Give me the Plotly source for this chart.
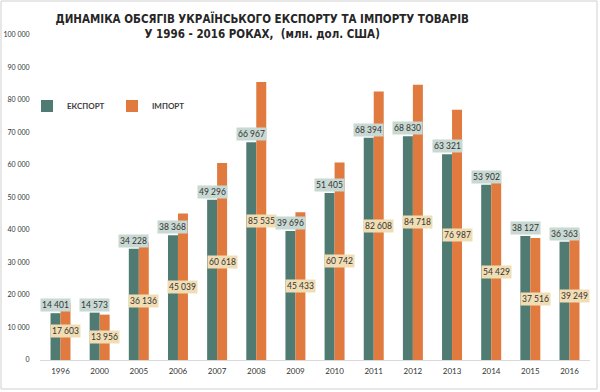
import plotly.graph_objects as go

years = ["1996", "2000", "2005", "2006", "2007", "2008", "2009", "2010",
         "2011", "2012", "2013", "2014", "2015", "2016"]
export_vals = [14401, 14573, 34228, 38368, 49296, 66967, 39696, 51405,
               68394, 68830, 63321, 53902, 38127, 36363]
import_vals = [17603, 13956, 36136, 45039, 60618, 85535, 45433, 60742,
               82608, 84718, 76987, 54429, 37516, 39249]

EXP_COLOR = "#4f7b72"
IMP_COLOR = "#e07a3f"
FONT = "Liberation Sans Narrow, DejaVu Sans Condensed, Lato"
LFONT = "Lato"

def fmt(v):
    return f"{v:,}".replace(",", " ")

fig = go.Figure()
fig.add_trace(go.Bar(x=years, y=export_vals, name="<b>ЕКСПОРТ</b>",
                     marker=dict(color=EXP_COLOR, line=dict(width=0))))
fig.add_trace(go.Bar(x=years, y=import_vals, name="<b>ІМПОРТ</b>",
                     marker=dict(color=IMP_COLOR, line=dict(width=0))))

annotations = []
for idx, (e, i) in enumerate(zip(export_vals, import_vals)):
    annotations.append(dict(x=idx, y=e, xref="x", yref="y", text=fmt(e),
                            showarrow=False, xshift=-5, yshift=8,
                            bgcolor="#c8d8d2", borderpad=1,
                            font=dict(family=LFONT, size=8.5, color="#333333")))
    annotations.append(dict(x=idx, y=i / 2, xref="x", yref="y", text=fmt(i),
                            showarrow=False, xshift=5,
                            bgcolor="#f1ddb3", borderpad=1,
                            font=dict(family=LFONT, size=8.5, color="#333333")))

fig.update_layout(
    width=600, height=392,
    margin=dict(l=40, r=10, t=35, b=32, autoexpand=False),
    paper_bgcolor="white", plot_bgcolor="white",
    barmode="group", bargap=0.49, bargroupgap=0,
    separators=". ",
    title=dict(text="<b>ДИНАМІКА ОБСЯГІВ УКРАЇНСЬКОГО ЕКСПОРТУ ТА ІМПОРТУ ТОВАРІВ<br>У 1996 - 2016 РОКАХ,  (млн. дол. США)</b>",
               x=0.437, xref="container", xanchor="center",
               y=0.942, yref="container", yanchor="top",
               font=dict(family=FONT, size=11.5, color="#262626")),
    legend=dict(orientation="h", xref="container", yref="container",
                x=0.045, y=(392 - 106) / 392, xanchor="left", yanchor="middle",
                font=dict(family=LFONT, size=8, color="#404040"),
                bgcolor="rgba(0,0,0,0)", itemwidth=30, entrywidth=40,
                entrywidthmode="pixels", traceorder="normal"),
    xaxis=dict(type="category", showline=True, linecolor="#d9d9d9", linewidth=1,
               ticks="outside", ticklen=3, tickcolor="rgba(0,0,0,0)", showgrid=False,
               tickfont=dict(family=LFONT, size=8, color="#333333")),
    yaxis=dict(range=[0, 100000], tickvals=list(range(0, 100001, 10000)),
               tickformat=",d", showgrid=False, zeroline=False, showline=False,
               ticks="outside", ticklen=8, tickcolor="rgba(0,0,0,0)",
               tickfont=dict(family=LFONT, size=7, color="#333333")),
    annotations=annotations,
    shapes=[dict(type="rect", xref="paper", yref="paper",
                 x0=(1 - 40) / 550, x1=(597 - 40) / 550,
                 y0=(360 - 389) / 325, y1=(360 - 1) / 325,
                 line=dict(color="#d0d0d0", width=1), layer="below")],
)

fig.write_html("out.html", config={"displayModeBar": False},
               post_script="document.body.style.margin='0';document.body.style.overflow='hidden';")
